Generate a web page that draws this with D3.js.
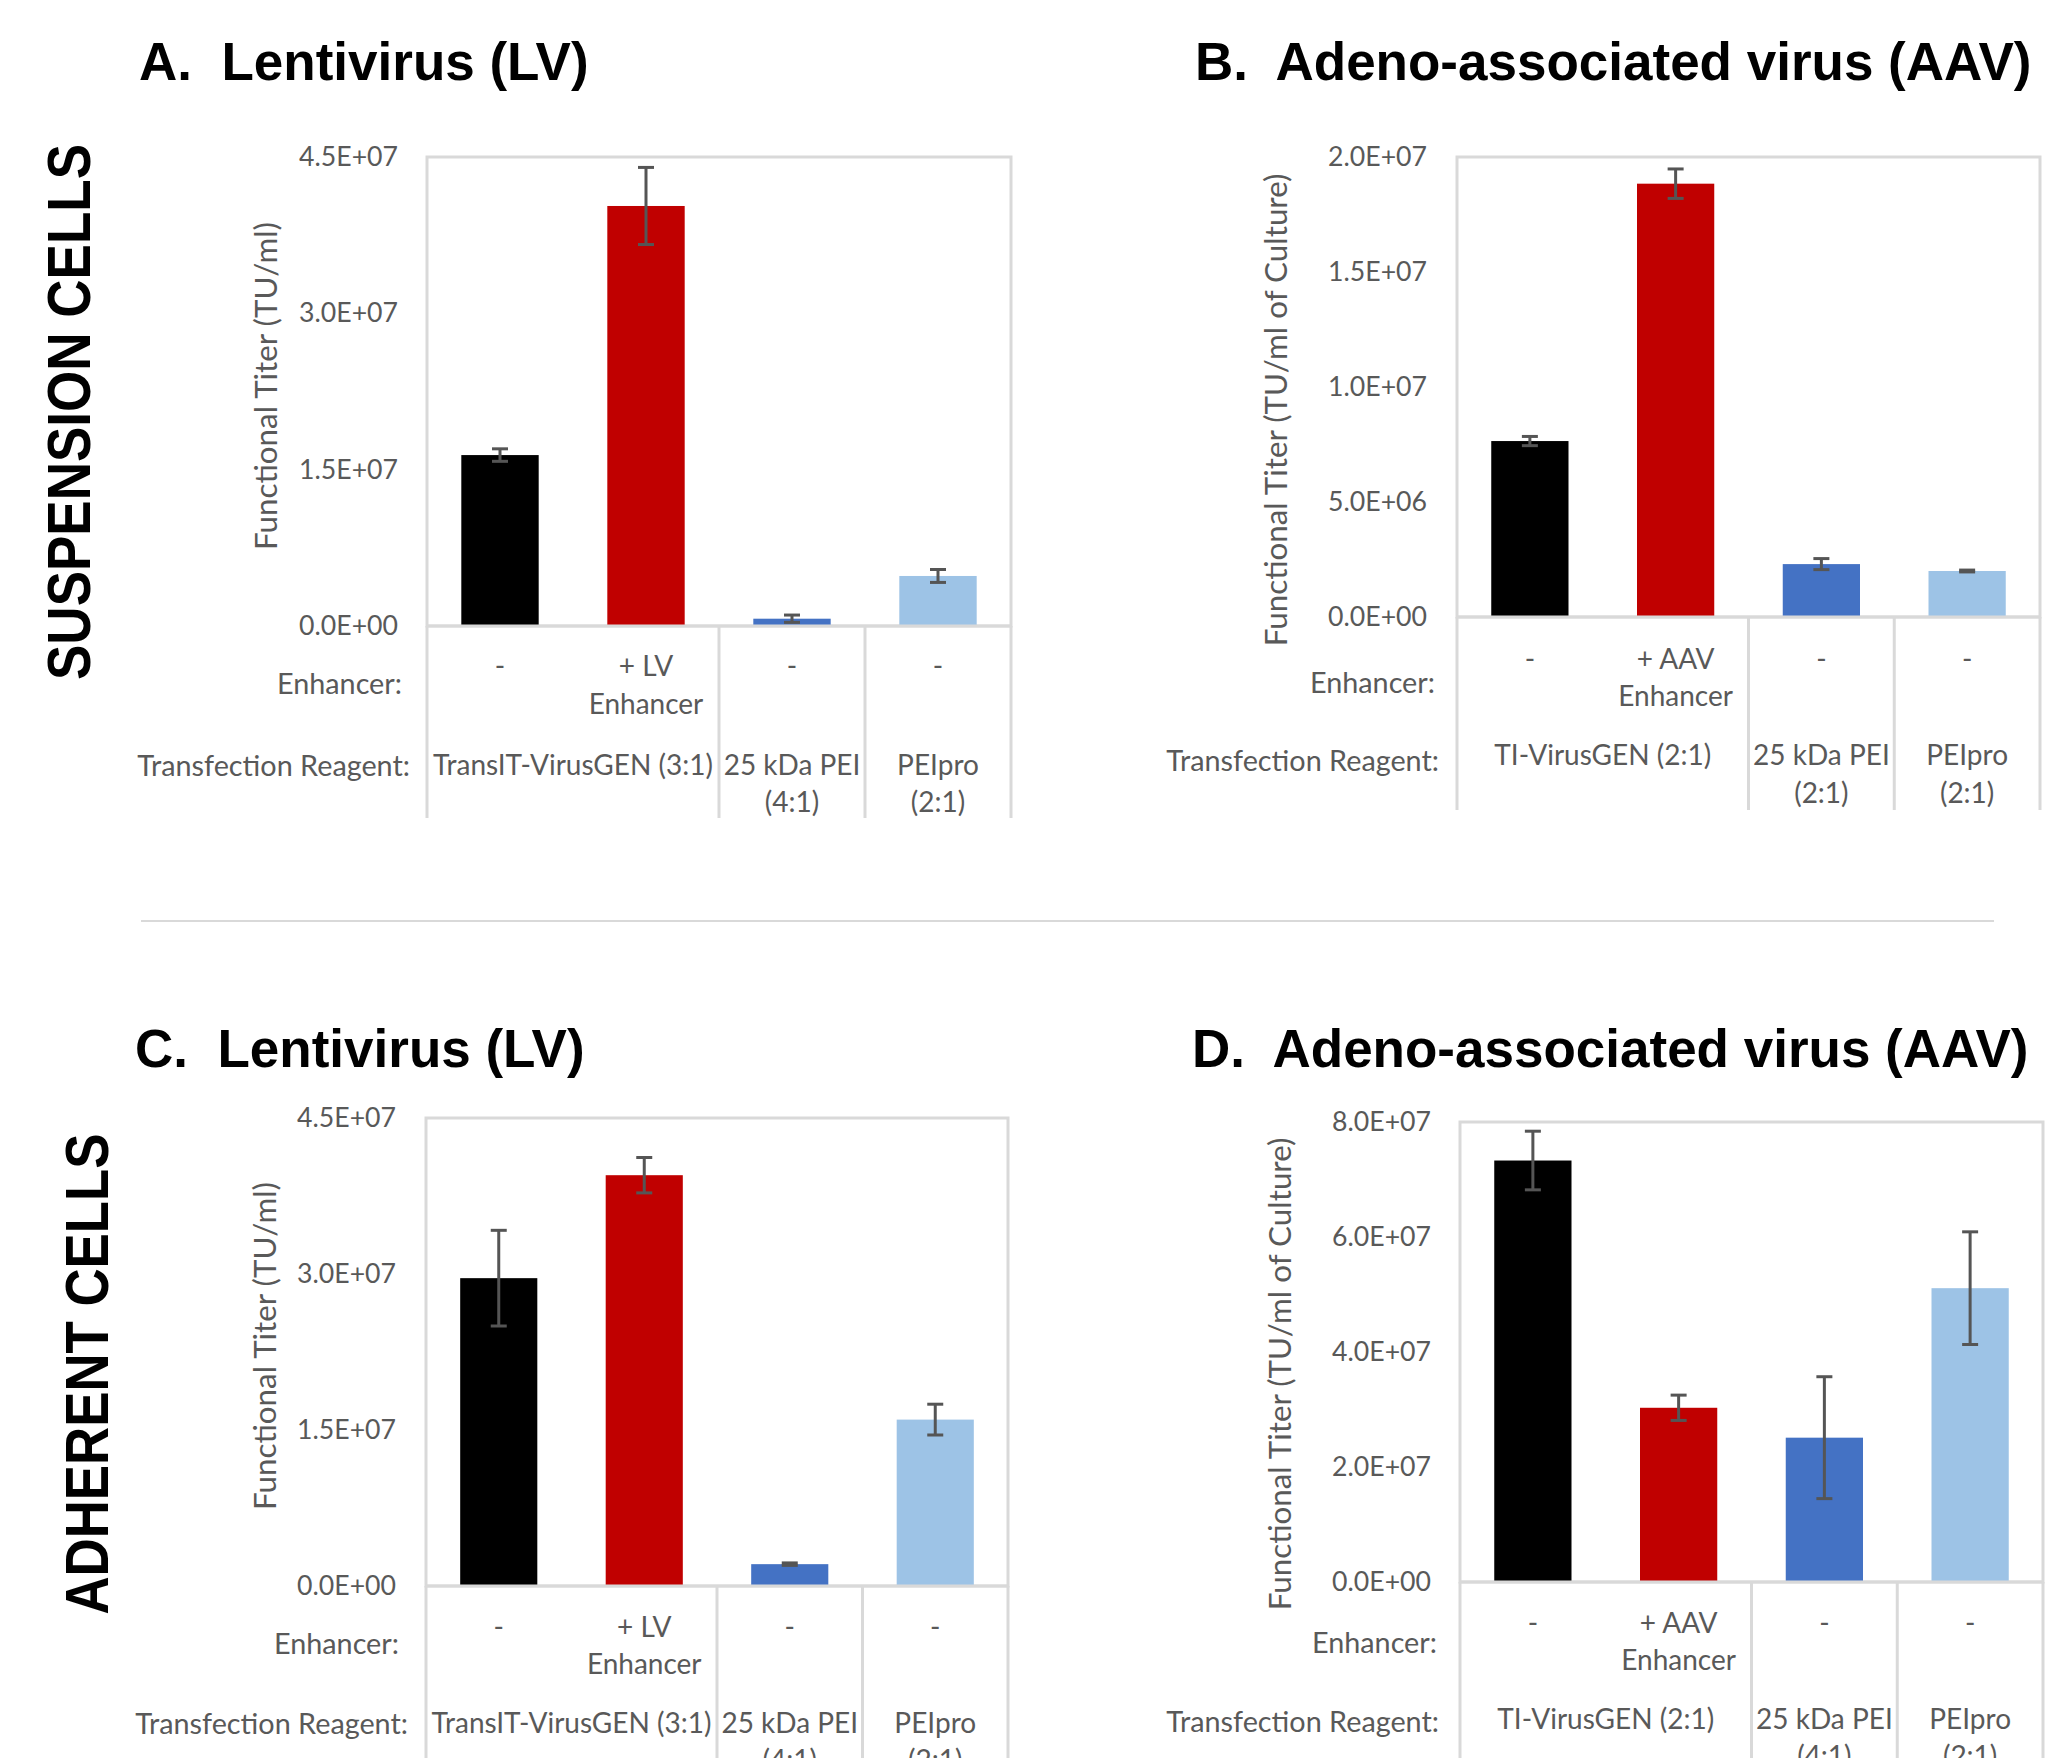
<!DOCTYPE html>
<html>
<head>
<meta charset="utf-8">
<script src="https://cdn.jsdelivr.net/npm/d3@7"></script>
<style>
  body { margin: 0; background: #fff; }
  svg { display: block; }
</style>
</head>
<body>
<div id="chart"></div>
<script>
// ---- data ----
var lvEnhancer = ["-", "+ LV\nEnhancer", "-", "-"];
var aavEnhancer = ["-", "+ AAV\nEnhancer", "-", "-"];

var suspLVReagents = [
  { label: "TransIT-VirusGEN (3:1)", from: 0, to: 1 },
  { label: "25 kDa PEI\n(4:1)", from: 2, to: 2 },
  { label: "PEIpro\n(2:1)", from: 3, to: 3 }
];
var suspAAVReagents = [
  { label: "TI-VirusGEN (2:1)", from: 0, to: 1 },
  { label: "25 kDa PEI\n(2:1)", from: 2, to: 2 },
  { label: "PEIpro\n(2:1)", from: 3, to: 3 }
];
var adhLVReagents = [
  { label: "TransIT-VirusGEN (3:1)", from: 0, to: 1 },
  { label: "25 kDa PEI\n(4:1)", from: 2, to: 2 },
  { label: "PEIpro\n(2:1)", from: 3, to: 3 }
];
var adhAAVReagents = [
  { label: "TI-VirusGEN (2:1)", from: 0, to: 1 },
  { label: "25 kDa PEI\n(4:1)", from: 2, to: 2 },
  { label: "PEIpro\n(2:1)", from: 3, to: 3 }
];

var suspLV = [1.64e7, 4.03e7, 0.07e7, 0.48e7];
var suspLVErr = [0.06e7, 0.37e7, 0.035e7, 0.062e7];
var suspAAV = [0.765e7, 1.884e7, 0.23e7, 0.20e7];
var suspAAVErr = [0.02e7, 0.064e7, 0.024e7, 0.004e7];
var adhLV = [2.96e7, 3.95e7, 0.21e7, 1.60e7];
var adhLVErr = [0.46e7, 0.17e7, 0.012e7, 0.148e7];
var adhAAV = [7.33e7, 3.03e7, 2.51e7, 5.11e7];
var adhAAVErr = [0.51e7, 0.22e7, 1.06e7, 0.98e7];

var lvTicks = [0, 1.5e7, 3.0e7, 4.5e7];
var suspAAVTicks = [0, 5e6, 1.0e7, 1.5e7, 2.0e7];
var adhAAVTicks = [0, 2e7, 4e7, 6e7, 8e7];

var barColors = ["#000000", "#c00000", "#4472c4", "#9dc3e6"];

var W = 2062, H = 1758;
var FONT = "Lato, 'Open Sans', sans-serif";
var TITLE_FONT = "'Liberation Sans', Arial, sans-serif";
var GREY = "#595959";
var LINE = "#d9d9d9";

var svg = d3.select("#chart").append("svg")
	.attr("width", W)
	.attr("height", H);

svg.append("rect").attr("width", W).attr("height", H).attr("fill", "#fff");

// size a font so that a sample string has a given width
function fitSize(family, weight, sample, target) {
	var t = svg.append("text")
		.style("font-family", family)
		.style("font-weight", weight)
		.style("font-size", "100px")
		.text(sample);
	var w = t.node().getComputedTextLength();
	t.remove();
	return 100 * target / w;
}
var tickSize = fitSize(FONT, 400, "4.5E+07", 99);
var labelSize = fitSize(FONT, 400, "Transfection Reagent:", 273);
var catSize = fitSize(FONT, 400, "TransIT-VirusGEN (3:1)", 280);
var axisTitleSize = fitSize(FONT, 400, "Functional Titer (TU/ml)", 328);

function sci(v) {
	var p = v.toExponential(1).split("e");
	var e = +p[1];
	return p[0] + "E" + (e < 0 ? "-" : "+") + String(Math.abs(e)).padStart(2, "0");
}

function multiline(g, x, y, str, lh) {
	var lines = str.split("\n");
	var t = g.append("text")
		.attr("x", x)
		.attr("y", y)
		.attr("text-anchor", "middle")
		.style("font-family", FONT)
		.style("font-size", catSize + "px")
		.attr("fill", GREY);
	lines.forEach(function(l, i) {
		t.append("tspan")
			.attr("x", x)
			.attr("dy", i == 0 ? "0.35em" : lh)
			.text(l);
	});
}

function drawPanel(c) {
	var g = svg.append("g");
	var y = d3.scaleLinear()
		.domain([0, c.max])
		.range([c.zero, c.top]);
	var x = d3.scaleBand()
		.domain(d3.range(c.values.length))
		.range([c.left, c.right])
		.paddingInner(0.47)
		.paddingOuter(0.235);
	var step = x.step();

	// title
	g.append("text")
		.attr("x", c.titleX)
		.attr("y", c.titleY)
		.style("font-family", TITLE_FONT)
		.style("font-weight", "bold")
		.style("font-size", "53px")
		.style("white-space", "pre")
		.attr("fill", "#000")
		.text(c.title);

	// plot frame
	g.append("rect")
		.attr("x", c.left)
		.attr("y", c.top)
		.attr("width", c.right - c.left)
		.attr("height", c.zero - c.top)
		.attr("fill", "none")
		.attr("stroke", LINE)
		.attr("stroke-width", 3);

	// divider lines in the category table
	var bounds = [0];
	c.reagents.forEach(function(r) { bounds.push(r.to + 1); });
	g.selectAll(".div")
		.data(bounds)
		.enter()
		.append("line")
		.attr("x1", function(d) { return c.left + d * step; })
		.attr("x2", function(d) { return c.left + d * step; })
		.attr("y1", c.zero)
		.attr("y2", c.divBottom)
		.attr("stroke", LINE)
		.attr("stroke-width", 3);

	// y axis
	var yAxis = d3.axisLeft(y)
		.tickValues(c.ticks)
		.tickFormat(sci)
		.tickSize(0)
		.tickPadding(c.left - c.tickRight);
	var ax = g.append("g")
		.attr("transform", "translate(" + c.left + ",0)")
		.call(yAxis);
	ax.select(".domain").remove();
	ax.selectAll("text")
		.style("font-family", FONT)
		.style("font-size", tickSize + "px")
		.attr("fill", GREY);

	// axis title
	g.append("text")
		.attr("transform", "translate(" + c.ytX + "," + c.ytY + ") rotate(-90)")
		.attr("text-anchor", "middle")
		.attr("dy", "0.35em")
		.style("font-family", FONT)
		.style("font-size", axisTitleSize + "px")
		.attr("fill", GREY)
		.text(c.yTitle);

	// bars
	g.selectAll(".bar")
		.data(c.values)
		.enter()
		.append("rect")
		.attr("x", function(d, i) { return x(i); })
		.attr("y", function(d) { return y(d); })
		.attr("width", x.bandwidth())
		.attr("height", function(d) { return c.zero - y(d); })
		.attr("fill", function(d, i) { return barColors[i]; });

	// zero line
	g.append("line")
		.attr("x1", c.left).attr("x2", c.right)
		.attr("y1", c.zero).attr("y2", c.zero)
		.attr("stroke", LINE)
		.attr("stroke-width", 3);

	// error bars
	var eb = g.selectAll(".err")
		.data(c.values)
		.enter()
		.append("g")
		.attr("stroke", "#555555")
		.attr("stroke-width", 3);
	eb.append("line")
		.attr("x1", function(d, i) { return x(i) + x.bandwidth() / 2; })
		.attr("x2", function(d, i) { return x(i) + x.bandwidth() / 2; })
		.attr("y1", function(d, i) { return y(d + c.errs[i]); })
		.attr("y2", function(d, i) { return y(d - c.errs[i]); });
	[1, -1].forEach(function(s) {
		eb.append("line")
			.attr("x1", function(d, i) { return x(i) + x.bandwidth() / 2 - 8; })
			.attr("x2", function(d, i) { return x(i) + x.bandwidth() / 2 + 8; })
			.attr("y1", function(d, i) { return y(d + s * c.errs[i]); })
			.attr("y2", function(d, i) { return y(d + s * c.errs[i]); });
	});

	// row labels
	g.append("text")
		.attr("x", c.enhRight)
		.attr("y", c.zero + c.enhLabelDy)
		.attr("dy", "0.35em")
		.attr("text-anchor", "end")
		.style("font-family", FONT)
		.style("font-size", labelSize + "px")
		.attr("fill", GREY)
		.text("Enhancer:");
	g.append("text")
		.attr("x", c.trRight)
		.attr("y", c.zero + c.trLabelDy)
		.attr("dy", "0.35em")
		.attr("text-anchor", "end")
		.style("font-family", FONT)
		.style("font-size", labelSize + "px")
		.attr("fill", GREY)
		.text("Transfection Reagent:");

	// category labels
	c.enhancer.forEach(function(s, i) {
		multiline(g, x(i) + x.bandwidth() / 2, c.zero + c.catDy, s, c.lh);
	});
	c.reagents.forEach(function(r) {
		var cx = c.left + (r.from + r.to + 1) / 2 * step;
		multiline(g, cx, c.zero + c.reagDy, r.label, c.lh2);
	});
}

drawPanel({
	title: "A.  Lentivirus (LV)", titleX: 139, titleY: 80,
	values: suspLV, errs: suspLVErr, ticks: lvTicks, max: 4.5e7,
	enhancer: lvEnhancer, reagents: suspLVReagents,
	yTitle: "Functional Titer (TU/ml)", ytX: 266, ytY: 386,
	left: 427, right: 1011, top: 157, zero: 626, divBottom: 818,
	tickRight: 398, enhRight: 402, trRight: 410,
	catDy: 40, lh: 38, enhLabelDy: 58, trLabelDy: 140, reagDy: 139, lh2: 37
});
drawPanel({
	title: "B.  Adeno-associated virus (AAV)", titleX: 1195, titleY: 80,
	values: suspAAV, errs: suspAAVErr, ticks: suspAAVTicks, max: 2.0e7,
	enhancer: aavEnhancer, reagents: suspAAVReagents,
	yTitle: "Functional Titer (TU/ml of Culture)", ytX: 1276, ytY: 410,
	left: 1457, right: 2040, top: 157, zero: 617, divBottom: 810,
	tickRight: 1427, enhRight: 1435, trRight: 1439,
	catDy: 42, lh: 37, enhLabelDy: 66, trLabelDy: 144, reagDy: 138, lh2: 38
});
drawPanel({
	title: "C.  Lentivirus (LV)", titleX: 135, titleY: 1067,
	values: adhLV, errs: adhLVErr, ticks: lvTicks, max: 4.5e7,
	enhancer: lvEnhancer, reagents: adhLVReagents,
	yTitle: "Functional Titer (TU/ml)", ytX: 265, ytY: 1346,
	left: 426, right: 1008, top: 1118, zero: 1586, divBottom: 1758,
	tickRight: 396, enhRight: 399, trRight: 408,
	catDy: 41, lh: 37, enhLabelDy: 58, trLabelDy: 138, reagDy: 137, lh2: 37
});
drawPanel({
	title: "D.  Adeno-associated virus (AAV)", titleX: 1192, titleY: 1067,
	values: adhAAV, errs: adhAAVErr, ticks: adhAAVTicks, max: 8e7,
	enhancer: aavEnhancer, reagents: adhAAVReagents,
	yTitle: "Functional Titer (TU/ml of Culture)", ytX: 1280, ytY: 1374,
	left: 1460, right: 2043, top: 1122, zero: 1582, divBottom: 1758,
	tickRight: 1431, enhRight: 1437, trRight: 1439,
	catDy: 41, lh: 37, enhLabelDy: 61, trLabelDy: 140, reagDy: 137, lh2: 37
});

// separator between the two rows
svg.append("line")
	.attr("x1", 141).attr("x2", 1994)
	.attr("y1", 921).attr("y2", 921)
	.attr("stroke", LINE)
	.attr("stroke-width", 2);

// side labels
function sideLabel(txt, x, y, len) {
	svg.append("text")
		.attr("transform", "translate(" + x + "," + y + ") rotate(-90)")
		.attr("text-anchor", "middle")
		.attr("textLength", len)
		.attr("lengthAdjust", "spacingAndGlyphs")
		.style("font-family", TITLE_FONT)
		.style("font-weight", "bold")
		.style("font-size", "61px")
		.attr("fill", "#000")
		.text(txt);
}
sideLabel("SUSPENSION CELLS", 90, 412, 536);
sideLabel("ADHERENT CELLS", 108, 1374, 481);
</script>
</body>
</html>
